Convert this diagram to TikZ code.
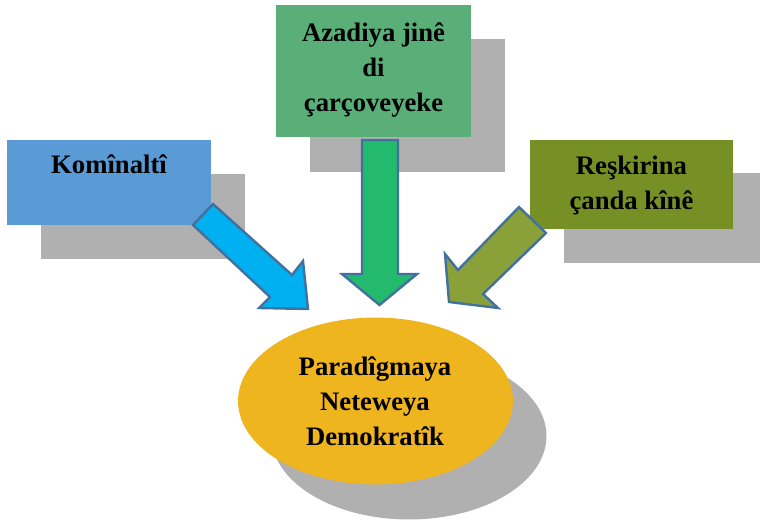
\documentclass[tikz,border=0pt]{standalone}
\usepackage{fontspec}
\setmainfont{Liberation Serif}
\definecolor{shadowgray}{RGB}{176,176,176}
\definecolor{kblue}{RGB}{91,155,213}
\definecolor{agreen}{RGB}{90,175,120}
\definecolor{rolive}{RGB}{119,144,38}
\definecolor{ablue}{RGB}{0,176,240}
\definecolor{agreentwo}{RGB}{35,186,110}
\definecolor{aolive}{RGB}{138,160,56}
\definecolor{eyellow}{RGB}{238,181,30}
\definecolor{arrowline}{RGB}{65,113,156}
\begin{document}
\begin{tikzpicture}[x=0.75pt,y=-0.75pt,
  shadowc/.style={fill=shadowgray},
  lbl/.style={font=\bfseries\fontsize{20}{26.25}\selectfont, align=center, inner sep=0pt},
  blockarrow/.style={draw=arrowline, line width=1.8pt, line join=miter}]
\useasboundingbox (0,0) rectangle (760,522);
% box shadows
\fill[shadowc] (41,174) rectangle (245,259);
\fill[shadowc] (310,39) rectangle (505,172);
\fill[shadowc] (564,173) rectangle (760,263);
% boxes
\fill[kblue] (7,140) rectangle (211,225);
\fill[agreen] (276,5) rectangle (471,137);
\fill[rolive] (530,140) rectangle (733,229);
% texts of boxes
\node[lbl] (k) at (109,164) {Komînaltî};
\node[lbl] (a) at (373.5,70) {Azadiya jinê\\di\\çarçoveyeke};
\node[lbl] (r) at (631.5,185) {Reşkirina\\çanda kînê};
% block arrows
\draw[blockarrow, fill=ablue] (193,225) -- (213,204) -- (292,275) -- (303,261) -- (308,309) -- (259,308) -- (270,297) -- cycle;
\draw[blockarrow, fill=agreentwo] (362,140) -- (398,140) -- (398,274) -- (417,274) -- (379.5,305) -- (342,274) -- (362,274) -- cycle;
\draw[blockarrow, fill=aolive] (519,207) -- (546,233) -- (483,294) -- (498,308) -- (449,302) -- (445,254) -- (458,270) -- cycle;
% ellipse
\fill[shadowgray] (409,436) ellipse [x radius=103.1pt, y radius=62.6pt];
\fill[eyellow] (375.5,401) ellipse [x radius=103.1pt, y radius=62.6pt];
\node[lbl] (p) at (375,401) {Paradîgmaya\\Neteweya\\Demokratîk};
\end{tikzpicture}
\end{document}
